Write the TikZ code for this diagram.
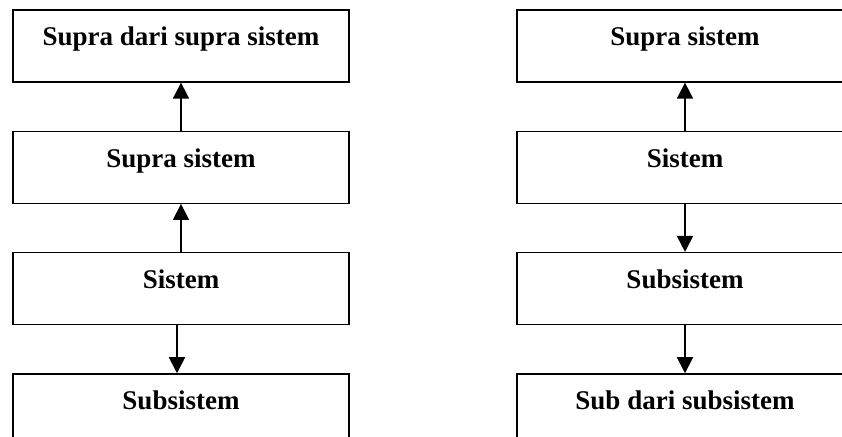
\documentclass[tikz,border=0pt]{standalone}
\usepackage{fontspec}
\setmainfont{Liberation Serif}
\usetikzlibrary{positioning,arrows.meta}

\begin{document}
\begin{tikzpicture}[x=1pt,y=1pt,
  level/.style={draw,line width=1.3pt,rectangle,minimum width=336pt,inner sep=0pt,
    text height=36pt,text depth=36pt,font=\fontsize{27}{30}\selectfont\bfseries},
  link/.style={line width=1.8pt,-{Triangle[length=16pt,width=16pt]}},
  node distance=48pt]
\clip (0,0) rectangle (842,436);
% Left hierarchy
\node[level] (ls1) at (181,390) {Supra dari supra sistem};
\node[level,below=of ls1] (ls2) {Supra sistem};
\node[level,below=of ls2] (ls3) {Sistem};
\node[level,below=of ls3] (ls4) {Subsistem};
\draw[link] (ls2) -- (ls1);
\draw[link] (ls3) -- (ls2);
\draw[link] ([xshift=-4pt]ls3.south) -- ([xshift=-4pt]ls4.north);

% Right hierarchy
\node[level] (rs1) at (685,390) {Supra sistem};
\node[level,below=of rs1] (rs2) {Sistem};
\node[level,below=of rs2] (rs3) {Subsistem};
\node[level,below=of rs3] (rs4) {Sub dari subsistem};
\draw[link] (rs2) -- (rs1);
\draw[link] (rs2) -- (rs3);
\draw[link] (rs3) -- (rs4);
\end{tikzpicture}
\end{document}
